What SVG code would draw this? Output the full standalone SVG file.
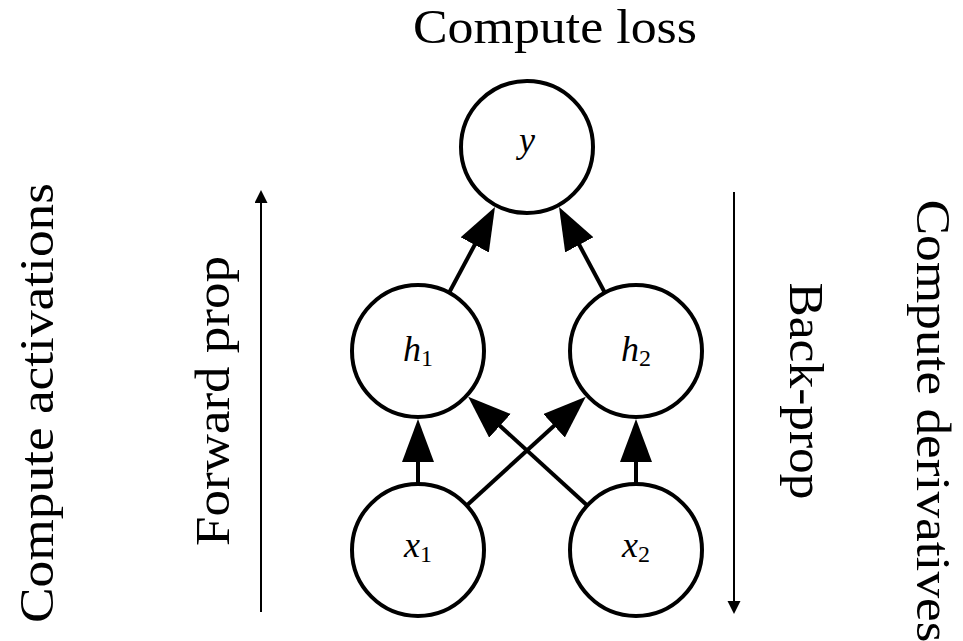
<svg xmlns="http://www.w3.org/2000/svg" width="963" height="641" viewBox="0 0 963 641">
<style>
.node circle{fill:#fff;stroke:#000;stroke-width:4}
.lbl{font-size:36px;fill:#000}
.lbl .v{font-style:italic}
.big{font-size:48px;fill:#000}
.edge{stroke:#000;stroke-width:4;fill:none;marker-end:url(#ah)}
.flow{stroke:#000;stroke-width:2;fill:none;marker-end:url(#sh)}
</style>
<defs>
<marker id="ah" markerUnits="userSpaceOnUse" markerWidth="44" markerHeight="33" refX="35" refY="16" orient="auto"><path d="M0,0 L43,16 L0,32 z" fill="#000"/></marker>
<marker id="sh" markerUnits="userSpaceOnUse" markerWidth="14" markerHeight="14" refX="10" refY="6.5" orient="auto"><path d="M0,0 L13,6.5 L0,13 z" fill="#000"/></marker>
</defs>
<rect width="963" height="641" fill="#fff"/>
<g id="connectors">
<line class="edge" x1="449.1" y1="292.8" x2="491.2" y2="214"/>
<line class="edge" x1="604.9" y1="292.8" x2="562.8" y2="214"/>
<line class="edge" x1="418" y1="484" x2="418" y2="427"/>
<line class="edge" x1="636" y1="484" x2="636" y2="427"/>
<line class="edge" x1="466.7" y1="505.5" x2="579.9" y2="402.2"/>
<line class="edge" x1="587.3" y1="505.5" x2="474.1" y2="402.2"/>
<line class="flow" x1="261" y1="612" x2="261" y2="193"/>
<line class="flow" x1="734" y1="192" x2="734" y2="611"/>
</g>
<g font-family="Liberation Serif, Times New Roman, DejaVu Serif, serif">
<g id="node-y" class="node"><circle cx="527" cy="147" r="66"/><text class="lbl" x="527" y="152" text-anchor="middle"><tspan class="v">y</tspan></text></g>
<g id="node-h1" class="node"><circle cx="418" cy="351" r="66"/><text class="lbl" x="418" y="361" text-anchor="middle"><tspan class="v">h</tspan><tspan font-size="24" dy="5">1</tspan></text></g>
<g id="node-h2" class="node"><circle cx="636" cy="351" r="66"/><text class="lbl" x="636" y="361" text-anchor="middle"><tspan class="v">h</tspan><tspan font-size="24" dy="5">2</tspan></text></g>
<g id="node-x1" class="node"><circle cx="418" cy="550" r="66"/><text class="lbl" x="418" y="557" text-anchor="middle"><tspan class="v">x</tspan><tspan font-size="24" dy="5">1</tspan></text></g>
<g id="node-x2" class="node"><circle cx="636" cy="550" r="66"/><text class="lbl" x="636" y="557" text-anchor="middle"><tspan class="v">x</tspan><tspan font-size="24" dy="5">2</tspan></text></g>
<g id="labels">
<text class="big" x="555" y="43" text-anchor="middle" textLength="284" lengthAdjust="spacingAndGlyphs">Compute loss</text>
<text class="big" transform="translate(53,403) rotate(-90)" text-anchor="middle" textLength="440" lengthAdjust="spacingAndGlyphs">Compute activations</text>
<text class="big" transform="translate(229,401) rotate(-90)" text-anchor="middle" textLength="290" lengthAdjust="spacingAndGlyphs">Forward prop</text>
<text class="big" transform="translate(790,391) rotate(90)" text-anchor="middle" textLength="217" lengthAdjust="spacingAndGlyphs">Back-prop</text>
<text class="big" transform="translate(917,421) rotate(90)" text-anchor="middle" textLength="443" lengthAdjust="spacingAndGlyphs">Compute derivatives</text>
</g>
</g>
</svg>
